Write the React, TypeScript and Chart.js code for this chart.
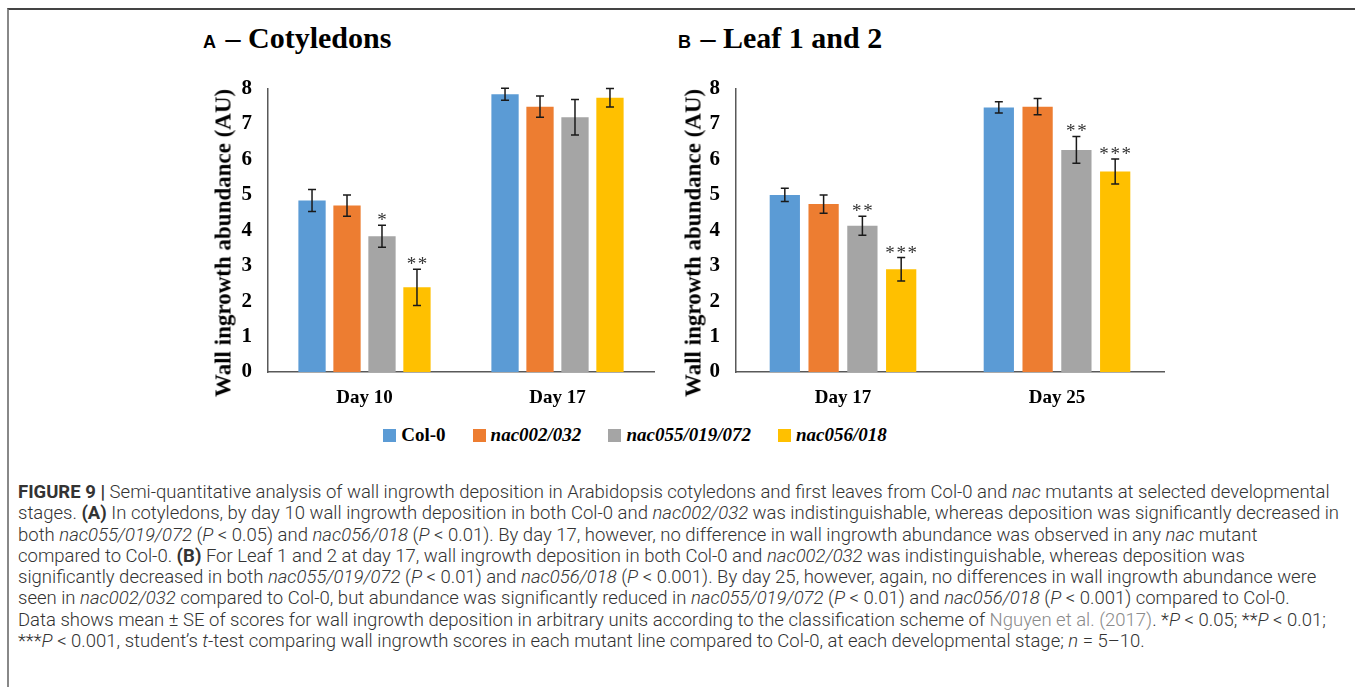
import React, { useEffect, useRef } from "react";
import { Chart, registerables } from "chart.js";

Chart.register(...registerables);

// ---------- data ----------
const seriesNames = ["Col-0", "nac002/032", "nac055/019/072", "nac056/018"];
const seriesItalic = [false, true, true, true];
const seriesColors = ["#5B9BD5", "#ED7D31", "#A5A5A5", "#FFC000"];

const yTicks = [0, 1, 2, 3, 4, 5, 6, 7, 8];
const yTitle = "Wall ingrowth abundance (AU)";

// Panel A – Cotyledons
const catsA = ["Day 10", "Day 17"];
const col0A = [4.84, 7.84];
const nac002A = [4.7, 7.49];
const nac055A = [3.83, 7.19];
const nac056A = [2.39, 7.74];
const col0ErrA = [0.31, 0.17];
const nac002ErrA = [0.3, 0.3];
const nac055ErrA = [0.31, 0.5];
const nac056ErrA = [0.51, 0.26];
const col0SigA = ["", ""];
const nac002SigA = ["", ""];
const nac055SigA = ["*", ""];
const nac056SigA = ["**", ""];

// Panel B – Leaf 1 and 2
const catsB = ["Day 17", "Day 25"];
const col0B = [5.0, 7.47];
const nac002B = [4.74, 7.49];
const nac055B = [4.13, 6.27];
const nac056B = [2.9, 5.66];
const col0ErrB = [0.19, 0.16];
const nac002ErrB = [0.26, 0.23];
const nac055ErrB = [0.27, 0.38];
const nac056ErrB = [0.33, 0.35];
const col0SigB = ["", ""];
const nac002SigB = ["", ""];
const nac055SigB = ["**", "**"];
const nac056SigB = ["***", "***"];

const SERIF = "'Liberation Serif', 'Times New Roman', serif";

type PanelProps = {
  labels: string[];
  values: number[][];
  errors: number[][];
  sig: string[][];
  left: number;
  top: number;
  width: number;
  height: number;
  yAxisWidth: number;
  padRight: number;
};

function BarPanel(p: PanelProps) {
  const ref = useRef<HTMLCanvasElement | null>(null);
  useEffect(() => {
    if (!ref.current) return;
    const errPlugin = {
      id: "errBars",
      afterDatasetsDraw(chart: any) {
        const ctx = chart.ctx;
        const ys = chart.scales.y;
        ctx.save();
        p.values.forEach((vals, i) => {
          const meta = chart.getDatasetMeta(i);
          vals.forEach((v, j) => {
            const bar = meta.data[j];
            if (!bar) return;
            const e = p.errors[i][j];
            const x = bar.x;
            const yt = ys.getPixelForValue(v + e);
            const yb = ys.getPixelForValue(v - e);
            ctx.strokeStyle = "#1a1a1a";
            ctx.lineWidth = 1.5;
            ctx.beginPath();
            ctx.moveTo(x, yt);
            ctx.lineTo(x, yb);
            ctx.moveTo(x - 4, yt);
            ctx.lineTo(x + 4, yt);
            ctx.moveTo(x - 4, yb);
            ctx.lineTo(x + 4, yb);
            ctx.stroke();
            const s = p.sig[i][j];
            if (s) {
              ctx.fillStyle = "#333";
              ctx.font = "19px " + SERIF;
              ctx.textAlign = "center";
              ctx.textBaseline = "alphabetic";
              ctx.fillText(s.split("").join("\u200A"), x, yt + 1);
            }
          });
        });
        ctx.restore();
      },
    };
    const chart = new Chart(ref.current, {
      type: "bar",
      data: {
        labels: p.labels,
        datasets: p.values.map((vals, i) => ({
          label: seriesNames[i],
          data: vals,
          backgroundColor: seriesColors[i],
          borderWidth: 0,
          categoryPercentage: 0.725,
          barPercentage: 0.78,
        })),
      },
      options: {
        animation: false,
        responsive: false,
        maintainAspectRatio: false,
        layout: { padding: { top: 27, right: p.padRight, left: 0, bottom: 0 } },
        plugins: { legend: { display: false }, tooltip: { enabled: false } },
        scales: {
          x: {
            grid: { display: false, drawTicks: false },
            border: { display: true, color: "#595959", width: 1.5 },
            ticks: {
              color: "#000",
              font: { family: SERIF, size: 19, weight: "bold" },
              padding: 15,
            },
            afterFit(scale: any) {
              scale.height = 48;
            },
          },
          y: {
            min: 0,
            max: 8,
            afterBuildTicks(scale: any) {
              scale.ticks = yTicks.map((v) => ({ value: v }));
            },
            grid: { display: false, drawTicks: false },
            border: { display: true, color: "#595959", width: 1.5 },
            ticks: {
              color: "#000",
              font: { family: SERIF, size: 21, weight: "bold" },
              padding: 16,
            },
            afterFit(scale: any) {
              scale.width = p.yAxisWidth;
            },
          },
        },
      },
      plugins: [errPlugin],
    } as any);
    return () => chart.destroy();
  }, []);
  return (
    <canvas
      ref={ref}
      width={p.width}
      height={p.height}
      style={{ position: "absolute", left: p.left, top: p.top, width: p.width, height: p.height }}
    />
  );
}

function YTitle({ cx, cy }: { cx: number; cy: number }) {
  return (
    <div
      style={{
        position: "absolute",
        left: cx,
        top: cy,
        transform: "translate(-50%, -50%) rotate(-90deg)",
        whiteSpace: "nowrap",
        fontFamily: SERIF,
        fontWeight: "bold",
        fontSize: 23,
        lineHeight: "23px",
        color: "#000",
      }}
    >
      {yTitle}
    </div>
  );
}

function PanelTitle({ letter, text, left }: { letter: string; text: string; left: number }) {
  return (
    <div style={{ position: "absolute", left, top: 23, whiteSpace: "nowrap", color: "#000", lineHeight: "30px" }}>
      <span style={{ fontFamily: "'Liberation Sans', Arial, sans-serif", fontWeight: "bold", fontSize: 18 }}>{letter}</span>
      <span style={{ fontFamily: SERIF, fontWeight: "bold", fontSize: 30, marginLeft: 2 }}> – {text}</span>
    </div>
  );
}

const capLine: React.CSSProperties = {
  whiteSpace: "nowrap",
  height: 21.3,
  lineHeight: "21.3px",
};
const B: React.CSSProperties = { fontWeight: 700 };

export default function App() {
  return (
    <div
      style={{
        position: "fixed",
        left: 0,
        top: 0,
        width: 1355,
        height: 687,
        background: "#fff",
        overflow: "hidden",
      }}
    >
      <div
        style={{
          position: "absolute",
          left: 7,
          top: 8,
          right: 0,
          bottom: 0,
          borderTop: "2px solid #444",
          borderLeft: "2px solid #888",
        }}
      />
      <PanelTitle letter="A" text="Cotyledons" left={203} />
      <PanelTitle letter="B" text="Leaf 1 and 2" left={678} />
      <BarPanel
        labels={catsA}
        values={[col0A, nac002A, nac055A, nac056A]}
        errors={[col0ErrA, nac002ErrA, nac055ErrA, nac056ErrA]}
        sig={[col0SigA, nac002SigA, nac055SigA, nac056SigA]}
        left={190}
        top={60}
        width={470}
        height={360}
        yAxisWidth={78}
        padRight={6}
      />
      <BarPanel
        labels={catsB}
        values={[col0B, nac002B, nac055B, nac056B]}
        errors={[col0ErrB, nac002ErrB, nac055ErrB, nac056ErrB]}
        sig={[col0SigB, nac002SigB, nac055SigB, nac056SigB]}
        left={660}
        top={60}
        width={520}
        height={360}
        yAxisWidth={76}
        padRight={16}
      />
      <YTitle cx={223} cy={243} />
      <YTitle cx={693} cy={243} />
      <div
        style={{
          position: "absolute",
          left: 0,
          width: 1270,
          top: 424,
          display: "flex",
          justifyContent: "center",
          gap: 27,
          fontFamily: SERIF,
          fontWeight: "bold",
          fontSize: 19,
          color: "#000",
        }}
      >
        {seriesNames.map((n, i) => (
          <div key={n} style={{ display: "flex", alignItems: "center", gap: 5 }}>
            <span style={{ display: "inline-block", width: 13, height: 13, background: seriesColors[i] }} />
            <span style={{ fontStyle: seriesItalic[i] ? "italic" : "normal" }}>{n}</span>
          </div>
        ))}
      </div>
      <div
        style={{
          position: "absolute",
          left: 18,
          top: 482,
          fontFamily: "Roboto, 'Liberation Sans', sans-serif",
          fontWeight: 300,
          fontSize: 18.5,
          color: "#333",
        }}
      >
        <div style={capLine}>
          <b style={B}>FIGURE 9 |</b> Semi-quantitative analysis of wall ingrowth deposition in Arabidopsis cotyledons and first leaves from Col-0 and <i>nac</i> mutants at selected developmental
        </div>
        <div style={capLine}>
          stages. <b style={B}>(A)</b> In cotyledons, by day 10 wall ingrowth deposition in both Col-0 and <i>nac002/032</i> was indistinguishable, whereas deposition was significantly decreased in
        </div>
        <div style={capLine}>
          both <i>nac055/019/072</i> (<i>P</i> &lt; 0.05) and <i>nac056/018</i> (<i>P</i> &lt; 0.01). By day 17, however, no difference in wall ingrowth abundance was observed in any <i>nac</i> mutant
        </div>
        <div style={capLine}>
          compared to Col-0. <b style={B}>(B)</b> For Leaf 1 and 2 at day 17, wall ingrowth deposition in both Col-0 and <i>nac002/032</i> was indistinguishable, whereas deposition was
        </div>
        <div style={capLine}>
          significantly decreased in both <i>nac055/019/072</i> (<i>P</i> &lt; 0.01) and <i>nac056/018</i> (<i>P</i> &lt; 0.001). By day 25, however, again, no differences in wall ingrowth abundance were
        </div>
        <div style={capLine}>
          seen in <i>nac002/032</i> compared to Col-0, but abundance was significantly reduced in <i>nac055/019/072</i> (<i>P</i> &lt; 0.01) and <i>nac056/018</i> (<i>P</i> &lt; 0.001) compared to Col-0.
        </div>
        <div style={capLine}>
          Data shows mean ± SE of scores for wall ingrowth deposition in arbitrary units according to the classification scheme of <span style={{ color: "#8a8a8a" }}>Nguyen et al. (2017)</span>. *<i>P</i> &lt; 0.05; **<i>P</i> &lt; 0.01;
        </div>
        <div style={capLine}>
          ***<i>P</i> &lt; 0.001, student’s <i>t</i>-test comparing wall ingrowth scores in each mutant line compared to Col-0, at each developmental stage; <i>n</i> = 5–10.
        </div>
      </div>
    </div>
  );
}
